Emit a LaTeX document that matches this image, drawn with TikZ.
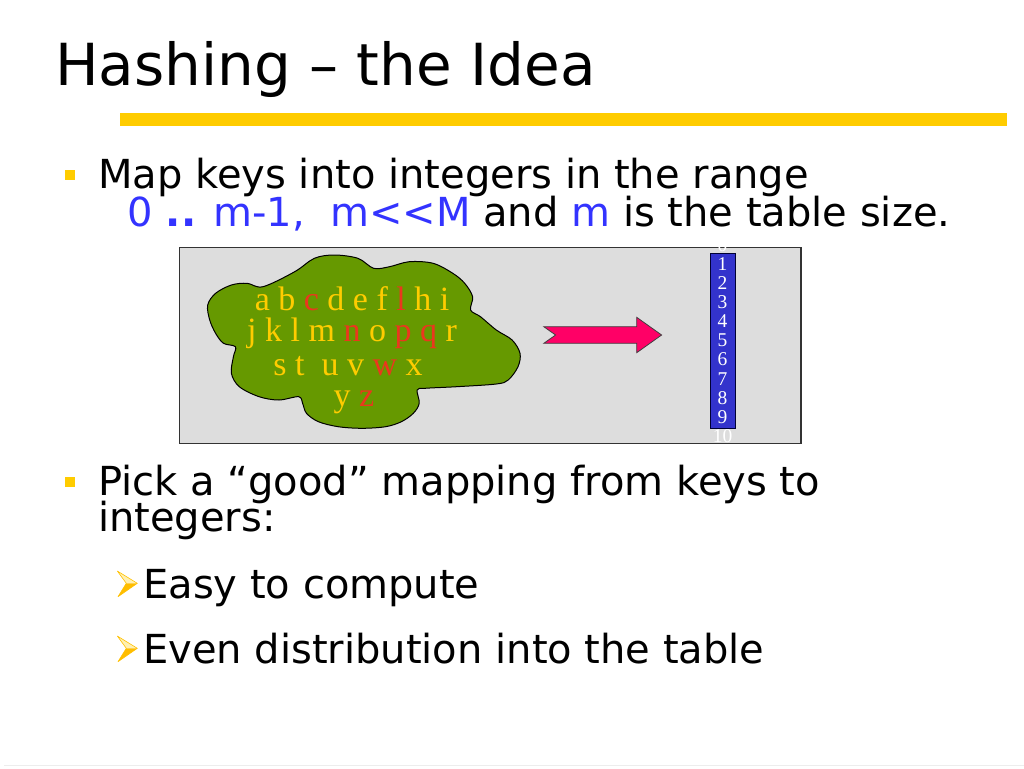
\documentclass[tikz,border=0pt]{standalone}
\usepackage{fontspec}
\setmainfont{DejaVu Sans}
\newfontfamily\tms{Liberation Serif}
\definecolor{yl}{HTML}{FFCC00}
\definecolor{rd}{HTML}{EB371E}
\definecolor{bl}{HTML}{3333FF}
\definecolor{panel}{HTML}{DDDDDD}
\definecolor{leaf}{HTML}{669900}
\definecolor{pinkarrow}{HTML}{FF0066}
\definecolor{tablebl}{HTML}{3333CC}
\begin{document}
\begin{tikzpicture}[x=1pt,y=-1pt,
  txt/.style={anchor=base west,inner sep=0pt,font=\fontsize{40}{44}\selectfont},
  lettr/.style={anchor=base,inner sep=0pt,font=\tms\fontsize{34}{32}\selectfont,text=yl},
  num/.style={anchor=base,inner sep=0pt,font=\tms\fontsize{19.5}{20}\selectfont,text=white},
  sqbullet/.style={fill=yl,draw=none},
  arrbullet/.style={line width=0.6pt,draw=yl!85!orange}]
\useasboundingbox (0,0) rectangle (1024,768);
\fill[white] (0,0) rectangle (1024,768);
% title
\node[anchor=base west,inner sep=0pt,font=\fontsize{58}{64}\selectfont] (title) at (55,85) {Hashing – the Idea};
\fill[yl] (119.5,112.7) rectangle (1006.5,126.2);
% bullet 1
\fill[sqbullet] (65,169.5) rectangle (75,180);
\node[txt] (l1) at (98,188) {Map keys into integers in the range};
\node[txt] (l2) at (127.5,226) {{\color{bl}0 \textbf{..} m-1,\ \ m<{}<M} and {\color{bl}m} is the table size.};
% panel
\draw[fill=panel,draw=black!80,line width=1.2pt] (179.5,247.5) rectangle (801,443.5);
% cloud
\draw[fill=leaf,draw=black,line width=1pt] plot[smooth cycle,tension=0.55] coordinates {
(207.7,305) (215.6,293.3) (231.4,285) (247.2,283.3) (263,286.7) (294.7,271.7)
(314.4,258.3) (334.2,255) (357.9,258.3) (373.7,268.3) (389.6,266.7) (409.3,261.7)
(433.1,263.3) (452.8,273.3) (464.7,283.3) (472.6,296.7) (470.6,310) (480.5,316.7)
(496.3,330) (512.1,340) (520,353.3) (518,366.7) (508.2,380) (496.3,384)
(456.8,386.7) (425.1,388.3) (417.2,390) (419.2,403.3) (413.3,413.3) (401.4,421.7)
(385.6,426.7) (361.9,428.3) (338.2,426.7) (318.4,421.7) (306.5,413.3) (302.6,403.3)
(298.6,396.7) (278.9,400) (259.1,396.7) (239.3,386.7) (231.4,373.3) (233.4,356.7)
(235.4,346.7) (223.5,343.3) (215.6,333.3) (209.7,320)};
\node[lettr] (r1) at (352,310) {a b {\color{rd}c} d e f {\color{rd}l} h i};
\node[lettr] (r2) at (352,341.7) {j k l m {\color{rd}n} o {\color{rd}p q} r};
\node[lettr] (r3) at (348,375) {s t\ \ u v {\color{rd}w} x};
\node[lettr] (r4) at (354,406.7) {y {\color{rd}z}};
% arrow
\draw[fill=pinkarrow,draw=black!75,line width=0.8pt,line join=miter]
  (543.8,326.7) -- (555.6,335) -- (543.8,343.3) -- (636.7,343.3) -- (636.7,352.7)
  -- (661.6,335) -- (636.7,317.3) -- (636.7,326.7) -- cycle;
% table
\draw[fill=tablebl,draw=black!80!blue,line width=0.8pt] (710,253) rectangle (735,428.5);
\foreach \i in {0,...,10} {
  \node[num] (n\i) at (722.5,{251.3+19.1*\i}) {\i};
}
% bullet 2
\fill[sqbullet] (65,477) rectangle (75,487);
\node[txt] (l3) at (98,495) {Pick a “good” mapping from keys to};
\node[txt] (l4) at (98,531.7) {integers:};
% sub bullets
\foreach \dy/\nm in {0/a,65/b} {
  \begin{scope}[yshift=-\dy pt]
  \fill[yl!30!white] (117.3,571) -- (137.3,583.3) -- (126.3,583.3) -- cycle;
  \fill[yl!80!orange] (126.3,583.3) -- (137.3,583.3) -- (118,596.7) -- cycle;
  \draw[arrbullet,line join=round] (117.3,571) -- (137.3,583.3) -- (118,596.7) -- (126.3,583.3) -- cycle;
  \end{scope}
}
\node[txt] (s1) at (143,598.3) {Easy to compute};
\node[txt] (s2) at (143,663.3) {Even distribution into the table};
% faint footer line
\draw[black!7,line width=1pt] (4,765.5) -- (1024,765.5);
\end{tikzpicture}
\end{document}
